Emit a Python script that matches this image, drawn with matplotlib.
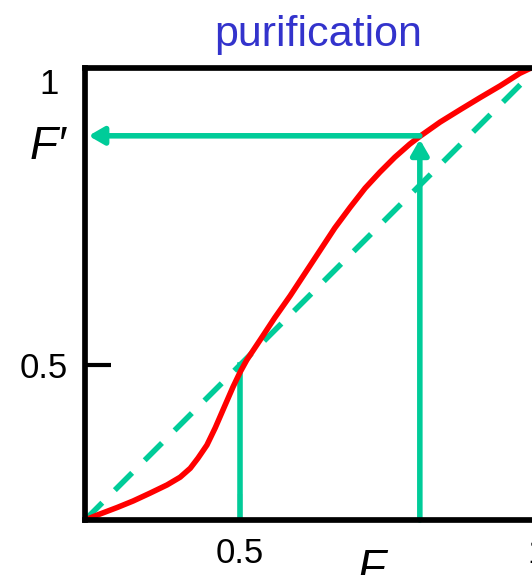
import matplotlib.pyplot as plt
from matplotlib.transforms import ScaledTranslation

# purification map F -> F'
F_in = [0.24, 0.265, 0.294, 0.321, 0.349, 0.378, 0.400, 0.417, 0.430, 0.445,
        0.459, 0.472, 0.489, 0.501, 0.512, 0.534, 0.559, 0.585, 0.610, 0.635,
        0.660, 0.686, 0.711, 0.736, 0.761, 0.786, 0.803, 0.837, 0.871, 0.904,
        0.938, 0.971, 0.99]
F_out = [0.24, 0.250, 0.261, 0.272, 0.285, 0.299, 0.312, 0.327, 0.344, 0.366,
         0.395, 0.425, 0.464, 0.489, 0.509, 0.542, 0.580, 0.617, 0.655, 0.693,
         0.731, 0.766, 0.798, 0.825, 0.850, 0.872, 0.885, 0.909, 0.930, 0.950,
         0.970, 0.991, 1.0]
diag = [0.24, 1.0]

fixed_point = 0.5
step_in = 0.803
step_out = 0.886

green = '#00CC99'
plt.rcParams['font.family'] = ['Liberation Sans', 'DejaVu Sans']

fig = plt.figure(figsize=(5.32, 5.75), dpi=100)
ax = fig.add_axes([85 / 532, 55 / 575, 452 / 532, 452 / 575])
ax.set_xlim(0.24, 1.0)
ax.set_ylim(0.24, 1.0)

ax.plot(diag, diag, color=green, lw=4, dashes=(4.4, 3.2), solid_capstyle='butt', zorder=2)
ax.plot(F_in, F_out, color='red', lw=4, solid_joinstyle='round', zorder=3)

# fixed point marker line
ax.plot([fixed_point, fixed_point], [0.24, fixed_point], color=green, lw=4, zorder=2)

arrow = dict(arrowstyle='-|>,head_length=0.45,head_width=0.26', mutation_scale=20,
             color=green, lw=4, shrinkA=0, shrinkB=0)
ax.annotate('', xy=(step_in, step_out - 0.006), xytext=(step_in, 0.24), arrowprops=arrow, zorder=4)
ax.annotate('', xy=(0.246, step_out), xytext=(step_in, step_out), arrowprops=arrow, zorder=4)

for s in ax.spines.values():
    s.set_linewidth(4.1)
    s.set_zorder(5)

ax.set_xticks([0.5, 1.0])
ax.set_xticklabels(['0.5', '1'])
ax.set_yticks([0.5, step_out, 1.0])
ax.set_yticklabels(['0.5', "F′", '1'])
ax.tick_params(direction='in', length=19, width=3, labelsize=25, color='black')
ax.tick_params(axis='x', pad=12)
ax.tick_params(axis='y', pad=12)

yt = ax.yaxis.get_major_ticks()
yt[1].tick1line.set_visible(False)
yt[1].label1.set_fontstyle('italic')
yt[1].label1.set_fontsize(33)
yt[1].label1.set_transform(yt[1].label1.get_transform()
                           + ScaledTranslation(-2 / 100, -6 / 100, fig.dpi_scale_trans))
yt[2].label1.set_va('top')
yt[2].label1.set_transform(yt[2].label1.get_transform()
                           + ScaledTranslation(-10 / 100, 0, fig.dpi_scale_trans))

ax.set_xlabel('F', fontsize=33, fontstyle='italic', va='top')
ax.xaxis.set_label_coords(0.635, -0.062)

ax.set_title('purification', fontsize=31, color='#3333CC', pad=16, x=0.515)

fig.savefig('out.png', dpi=100)
